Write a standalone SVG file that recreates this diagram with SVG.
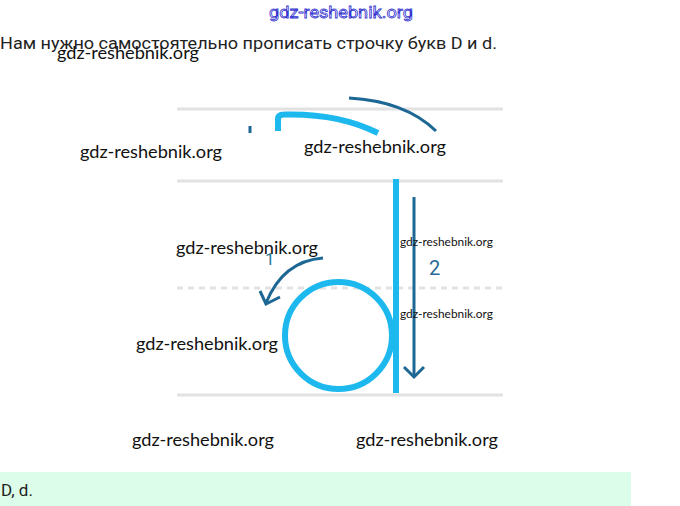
<svg xmlns="http://www.w3.org/2000/svg" width="680" height="506" viewBox="0 0 680 506">
<style>
.guide{stroke:#e2e2e2;stroke-width:3;fill:none}
.cyan{stroke:#1db9ee;fill:none;stroke-width:6}
.dark{stroke:#1d6794;fill:none;stroke-width:3}
.wm{font-family:Lato,"Liberation Sans",sans-serif;font-size:17px;fill:#111}
.wms{font-family:Lato,"Liberation Sans",sans-serif;font-size:11px;fill:#111}
.hdr{font-family:Roboto,"Liberation Sans",sans-serif;font-size:17px;fill:#222}
</style>
<rect width="680" height="506" fill="#fff"/>
<text x="341" y="18" text-anchor="middle" font-family="Roboto,'Liberation Sans',sans-serif" font-size="17" fill="none" stroke="#3535d0" stroke-width="0.8" textLength="144" lengthAdjust="spacingAndGlyphs">gdz-reshebnik.org</text>
<text class="hdr" x="0" y="49" textLength="497" lengthAdjust="spacingAndGlyphs">Нам нужно самостоятельно прописать строчку букв D и d.</text>
<g id="guides">
<line class="guide" x1="177" y1="109" x2="503" y2="109"/>
<line class="guide" x1="177" y1="181" x2="503" y2="181"/>
<line class="guide" x1="177" y1="288" x2="503" y2="288" stroke-dasharray="6 5"/>
<line class="guide" x1="177" y1="395" x2="503" y2="395"/>
</g>
<g id="letter-top">
<path class="cyan" d="M278,131 L278,119 Q278,114.5 284,114.5 Q338,113 378,133"/>
<line class="dark" x1="250" y1="126" x2="250" y2="133"/>
<path class="dark" d="M349,98 Q405,101 436,131"/>
</g>
<g id="letter-d">
<circle class="cyan" cx="338.5" cy="335.5" r="53.5" stroke-width="7"/>
<line class="cyan" x1="396" y1="179" x2="396" y2="393" stroke-width="6"/>
</g>
<g id="connectors">
<path class="dark" d="M323,258 Q283,261 266,303"/>
<polyline class="dark" points="260,291 266,304 280,297"/>
<line class="dark" x1="414" y1="197" x2="414" y2="377"/>
<polyline class="dark" points="404,367 414,377 424,367"/>
</g>
<g id="labels">
<text x="265" y="265" font-family="Roboto,'Liberation Sans',sans-serif" font-size="17" fill="#1d7e96">1</text>
<text x="429" y="275" font-family="Roboto,'Liberation Sans',sans-serif" font-size="20" fill="#2a6a98">2</text>
</g>
<g id="watermarks">
<text class="wm" x="57" y="59" textLength="142" lengthAdjust="spacingAndGlyphs">gdz-reshebnik.org</text>
<text class="wm" x="80" y="158" textLength="142" lengthAdjust="spacingAndGlyphs">gdz-reshebnik.org</text>
<text class="wm" x="304" y="153" textLength="142" lengthAdjust="spacingAndGlyphs">gdz-reshebnik.org</text>
<text class="wm" x="176" y="254" textLength="142" lengthAdjust="spacingAndGlyphs">gdz-reshebnik.org</text>
<text class="wm" x="136" y="350" textLength="142" lengthAdjust="spacingAndGlyphs">gdz-reshebnik.org</text>
<text class="wm" x="132" y="446" textLength="142" lengthAdjust="spacingAndGlyphs">gdz-reshebnik.org</text>
<text class="wm" x="356" y="446" textLength="142" lengthAdjust="spacingAndGlyphs">gdz-reshebnik.org</text>
<text class="wms" x="400" y="246" textLength="93" lengthAdjust="spacingAndGlyphs">gdz-reshebnik.org</text>
<text class="wms" x="400" y="318" textLength="93" lengthAdjust="spacingAndGlyphs">gdz-reshebnik.org</text>
</g>
<rect x="0" y="472" width="631" height="34" fill="#dcfdea"/>
<text class="hdr" x="1" y="496" font-size="16">D, d.</text>
</svg>
